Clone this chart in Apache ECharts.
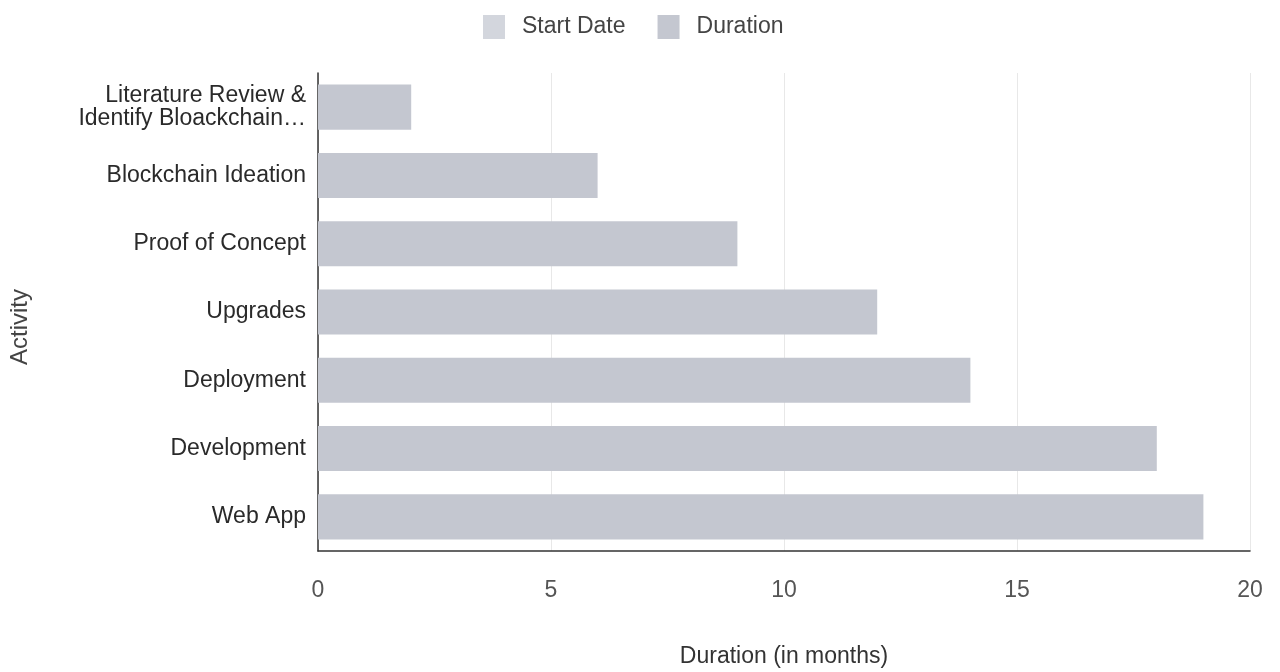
<!DOCTYPE html>
<html>
<head>
<meta charset="utf-8">
<title>Project Timeline</title>
<script src="https://cdn.jsdelivr.net/npm/echarts@6/dist/echarts.min.js"></script>
<style>
  html, body { margin: 0; padding: 0; background: #ffffff; }
  #chart { width: 1280px; height: 672px; }
</style>
</head>
<body>
<div id="chart"></div>
<script>
// Activities, top to bottom
const activities = [
  'Literature Review &\nIdentify Bloackchain…',
  'Blockchain Ideation',
  'Proof of Concept',
  'Upgrades',
  'Deployment',
  'Development',
  'Web App'
];
// Start offset of each activity (months)
const startDates = [0, 0, 0, 0, 0, 0, 0];
// Duration of each activity (months)
const durations = [2, 6, 9, 12, 14, 18, 19];
// Horizontal axis ticks
const xTicks = [0, 5, 10, 15, 20];

const font = '"Liberation Sans", Arial, sans-serif';

const chart = echarts.init(document.getElementById('chart'), null, { renderer: 'canvas' });

chart.setOption({
  backgroundColor: '#ffffff',
  animation: false,
  textStyle: { fontFamily: font },
  legend: {
    top: 10,
    left: 478,
    itemWidth: 22,
    itemHeight: 24,
    itemGap: 32,
    icon: 'rect',
    textStyle: { fontSize: 23, color: '#444', fontFamily: font, padding: [0, 0, 0, 12] },
    data: ['Start Date', 'Duration']
  },
  grid: {
    left: 318,
    right: 30,
    top: 73,
    height: 478,
    containLabel: false,
    outerBoundsMode: 'none'
  },
  xAxis: {
    type: 'value',
    min: xTicks[0],
    max: xTicks[xTicks.length - 1],
    interval: 5,
    name: 'Duration (in months)',
    nameLocation: 'middle',
    nameGap: 94,
    nameTextStyle: { fontSize: 23, color: '#333', fontFamily: font },
    axisLine: { show: true, lineStyle: { color: '#333', width: 1.5 } },
    axisTick: { show: false },
    axisLabel: { fontSize: 23, color: '#555', margin: 28, fontFamily: font },
    splitLine: { show: true, lineStyle: { color: '#e8e8e8', width: 1 } }
  },
  yAxis: {
    type: 'category',
    inverse: true,
    data: activities,
    name: 'Activity',
    nameLocation: 'middle',
    nameGap: 286,
    nameRotate: 90,
    nameTextStyle: { fontSize: 24, color: '#444', fontFamily: font, padding: [0, 30, 0, 0] },
    axisLine: { show: true, lineStyle: { color: '#333', width: 1.5 } },
    axisTick: { show: false },
    axisLabel: { fontSize: 23, color: '#2a2a2a', margin: 12, lineHeight: 23, fontFamily: font },
    splitLine: { show: false }
  },
  series: [
    {
      name: 'Start Date',
      type: 'bar',
      stack: 'timeline',
      barWidth: '66%',
      itemStyle: { color: '#d3d6dd' },
      data: startDates
    },
    {
      name: 'Duration',
      type: 'bar',
      stack: 'timeline',
      barWidth: '66%',
      itemStyle: { color: '#c4c7d0' },
      data: durations
    }
  ]
});
</script>
</body>
</html>
